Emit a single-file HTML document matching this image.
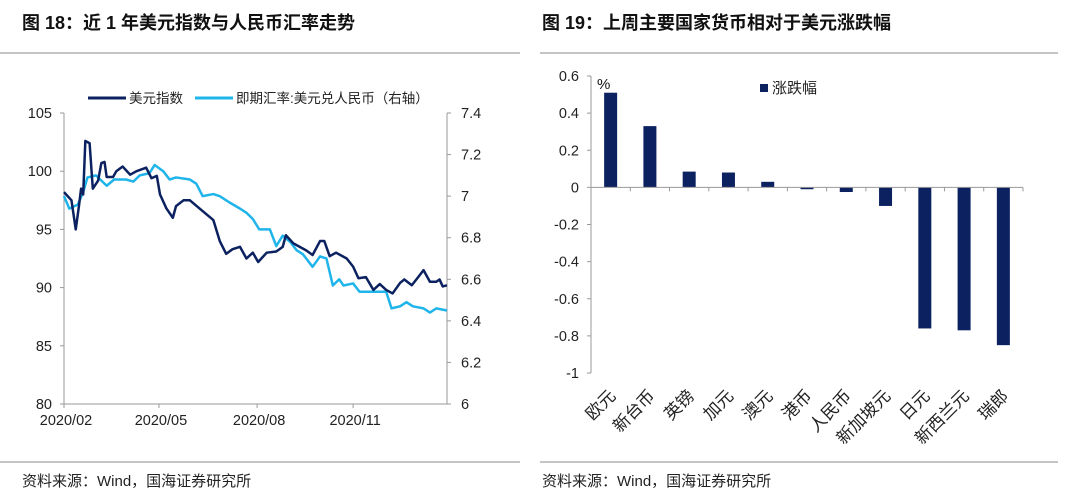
<!DOCTYPE html>
<html><head><meta charset="utf-8"><style>
body{margin:0;background:#fff;width:1080px;height:503px;overflow:hidden;font-family:"Liberation Sans","Noto Sans CJK SC",sans-serif;}
svg{position:absolute;left:0;top:0}
</style></head><body>
<svg width="1080" height="503" font-family="Liberation Sans, Noto Sans CJK SC, sans-serif">
<text x="22" y="29" font-size="18" font-weight="bold" fill="#111">图 18：近 1 年美元指数与人民币汇率走势</text>
<text x="542" y="29" font-size="18" font-weight="bold" fill="#111">图 19：上周主要国家货币相对于美元涨跌幅</text>
<line x1="0" y1="53" x2="520" y2="53" stroke="#888" stroke-width="1"/>
<line x1="540" y1="53" x2="1058" y2="53" stroke="#888" stroke-width="1"/>
<line x1="0" y1="462" x2="520" y2="462" stroke="#888" stroke-width="1"/>
<line x1="540" y1="462" x2="1058" y2="462" stroke="#888" stroke-width="1"/>
<text x="22" y="486" font-size="15" fill="#222">资料来源：Wind，国海证券研究所</text>
<text x="542" y="486" font-size="15" fill="#222">资料来源：Wind，国海证券研究所</text>
<g id="left"></g>
<g id="right"></g>
</svg>
<script>
const dxyDays=[0,7,11,14,16,18,20,24,27,32,35,38,40,46,49,55,62,68,77,82,87,90,96,102,105,112,118,127,140,146,152,158,165,171,177,182,190,199,205,208,215,221,227,233,240,244,249,255,265,271,276,283,290,296,302,308,315,319,326,332,337,343,349,352,355,359];
const dxyValues=[98.2,97.5,95.0,97,98.5,98,102.6,102.4,98.5,99.2,100.7,100.8,99.5,99.5,100.0,100.4,99.7,100.0,100.3,99.4,99.6,98.0,96.8,96.0,97.0,97.5,97.5,96.8,95.8,94.0,92.9,93.3,93.5,92.5,93.0,92.2,93.0,93.1,93.5,94.5,93.8,93.5,93.2,92.8,94.0,94.0,92.7,93.0,92.5,91.8,90.8,90.9,89.8,90.3,89.8,89.5,90.4,90.7,90.2,90.9,91.5,90.5,90.5,90.7,90.1,90.2];
const cnyDays=[0,5,13,18,22,30,40,47,58,65,71,80,85,93,99,105,118,124,130,140,146,155,165,171,177,183,193,199,205,212,218,224,233,240,246,252,258,262,271,277,290,302,307,315,321,327,337,343,349,359];
const cnyValues=[7.0,6.94,6.96,7.02,7.09,7.10,7.05,7.08,7.08,7.07,7.10,7.11,7.15,7.12,7.08,7.09,7.08,7.06,7.00,7.01,7.00,6.97,6.94,6.92,6.89,6.84,6.84,6.76,6.81,6.78,6.74,6.72,6.66,6.71,6.70,6.57,6.60,6.57,6.58,6.54,6.54,6.54,6.46,6.47,6.49,6.47,6.46,6.44,6.46,6.45];
const leftTicks=[80,85,90,95,100,105];
const rightTicks=[6,6.2,6.4,6.6,6.8,7,7.2,7.4];
const xTickDays=[0,89,181,271];
const xTickLabels=["2020/02","2020/05","2020/08","2020/11"];
const categories=["欧元","新台币","英镑","加元","澳元","港币","人民币","新加坡元","日元","新西兰元","瑞郎"];
const changes=[0.51,0.33,0.085,0.08,0.03,-0.01,-0.025,-0.1,-0.76,-0.77,-0.85];
const barTicks=[0.6,0.4,0.2,0,-0.2,-0.4,-0.6,-0.8,-1];
const barTickLabels=["0.6","0.4","0.2","0","-0.2","-0.4","-0.6","-0.8","-1"];

const NS="http://www.w3.org/2000/svg";
function mk(p,tag,a,txt){const e=document.createElementNS(NS,tag);for(const k in a)e.setAttribute(k,a[k]);if(txt!==undefined)e.textContent=txt;p.appendChild(e);return e;}

const L=document.getElementById('left');
const X0=64,X1=447,Y0=113,Y1=404;
const xs=d=>X0+d/359*(X1-X0);
const yl=v=>Y0+(105-v)/25*(Y1-Y0);
const yr=v=>Y0+(7.4-v)/1.4*(Y1-Y0);
let e;
e=mk(L,'line',{x1:X0,y1:Y0,x2:X0,y2:Y1,stroke:'#999'});


e=mk(L,'line',{x1:X1,y1:Y0,x2:X1,y2:Y1,stroke:'#999'});


e=mk(L,'line',{x1:X0,y1:Y1,x2:X1,y2:Y1,stroke:'#999'});


leftTicks.forEach(v=>{const y=yl(v);mk(L,'line',{x1:X0-4,y1:y,x2:X0,y2:y,stroke:'#999'});
 e=mk(L,'text',{x:X0-12,y:y+5,'font-size':14.5,'text-anchor':'end',fill:'#222'},String(v));
 
 });
rightTicks.forEach(v=>{const y=yr(v);mk(L,'line',{x1:X1,y1:y,x2:X1+4,y2:y,stroke:'#999'});
 e=mk(L,'text',{x:X1+14,y:y+5,'font-size':14.5,fill:'#222'},String(v));
 
 });
xTickDays.forEach((d,i)=>{const x=xs(d);mk(L,'line',{x1:x,y1:Y1,x2:x,y2:Y1+4,stroke:'#999'});
 e=mk(L,'text',{x:x+2,y:Y1+21,'font-size':14.5,'text-anchor':'middle',fill:'#222'},xTickLabels[i]);
 
 });
e=mk(L,'polyline',{points:cnyDays.map((d,i)=>xs(d)+','+yr(cnyValues[i])).join(' '),fill:'none',stroke:'#1fb4ea','stroke-width':2.5,'stroke-linejoin':'round'});


e=mk(L,'polyline',{points:dxyDays.map((d,i)=>xs(d)+','+yl(dxyValues[i])).join(' '),fill:'none',stroke:'#0c2260','stroke-width':2.5,'stroke-linejoin':'round'});


mk(L,'line',{x1:88,y1:98,x2:126,y2:98,stroke:'#0c2260','stroke-width':3});
e=mk(L,'text',{x:129,y:103,'font-size':13.5,fill:'#222'},'美元指数');


mk(L,'line',{x1:195,y1:98,x2:233,y2:98,stroke:'#1fb4ea','stroke-width':3});
e=mk(L,'text',{x:236,y:103,'font-size':13.5,fill:'#222'},'即期汇率:美元兑人民币（右轴）');



const R=document.getElementById('right');
const BX0=591,BX1=1023,BYtop=76,BYbot=373;
const yb=v=>BYtop+(0.6-v)/1.6*(BYbot-BYtop);
const bw=(BX1-BX0)/categories.length;
e=mk(R,'line',{x1:BX0,y1:BYtop,x2:BX0,y2:BYbot,stroke:'#999'});


barTicks.forEach((v,i)=>{const y=yb(v);mk(R,'line',{x1:BX0-4,y1:y,x2:BX0,y2:y,stroke:'#999'});
 e=mk(R,'text',{x:BX0-12,y:y+5,'font-size':14.5,'text-anchor':'end',fill:'#222'},barTickLabels[i]);
 
 });
categories.forEach((c,i)=>{const cx=BX0+bw*(i+0.5);const v=changes[i];
 const y=yb(Math.max(v,0)),h=Math.abs(yb(v)-yb(0));
 e=mk(R,'rect',{x:cx-6.5,y:y,width:13,height:Math.max(h,1),fill:'#0c2260'});
 
 
 mk(R,'line',{x1:BX0+bw*(i+1),y1:yb(0),x2:BX0+bw*(i+1),y2:yb(0)+4,stroke:'#999'});
 e=mk(R,'text',{x:cx+6,y:397,'font-size':17,'text-anchor':'end',fill:'#222',transform:`rotate(-45 ${cx+6} 397)`},c);
 
 });
e=mk(R,'line',{x1:BX0,y1:yb(0),x2:BX1,y2:yb(0),stroke:'#999'});


e=mk(R,'text',{x:597,y:89,'font-size':15,fill:'#111'},'%');


mk(R,'rect',{x:760,y:84,width:8,height:8,fill:'#0c2260'});
e=mk(R,'text',{x:772,y:93,'font-size':15,fill:'#222'},'涨跌幅');


</script>
</body></html>
